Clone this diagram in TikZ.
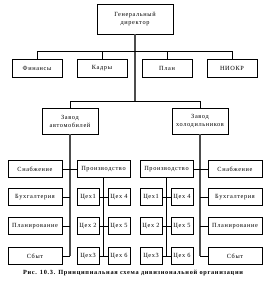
\documentclass[tikz,border=0pt]{standalone}
\usepackage{fontspec}
\setmainfont{Liberation Serif}
\newfontfamily\boxfont[LetterSpace=10]{Liberation Serif}
\newfontfamily\capfont[LetterSpace=11]{Liberation Serif}
\usepackage{tikz}

\begin{document}
\begin{tikzpicture}[x=1pt,y=-1pt,
  unit/.style={draw,line width=0.7pt,inner sep=1pt,align=center,
    font=\boxfont\fontsize{6.3}{8}\selectfont},
  link/.style={line width=0.7pt},
  trunk/.style={line width=1.4pt,black!70}]
\useasboundingbox (0,0) rectangle (265,286);
% top level
\node[unit,minimum width=76,minimum height=30] (gen) at (135,19) {Генеральный\\директор};
\node[unit,minimum width=50,minimum height=18] (fin) at (37,68) {Финансы};
\node[unit,minimum width=50,minimum height=18] (kadry) at (102,68) {Кадры};
\node[unit,minimum width=50,minimum height=18] (plan) at (167,68) {План};
\node[unit,minimum width=50,minimum height=18] (niokr) at (232,68) {НИОКР};
\coordinate (bar) at (0,51);
\coordinate (zavbar) at (0,101);
% plants
\node[unit,minimum width=56,minimum height=26] (zavA) at (70,121) {Завод\\автомобилей};
\node[unit,minimum width=56,minimum height=26] (zavB) at (200,121) {Завод\\холодильников};
% left plant
\node[unit,minimum width=54,minimum height=17] (snA) at (35,169) {Снабжение};
\node[unit,minimum width=54,minimum height=17] (buhA) at (35,197) {Бухгалтерия};
\node[unit,minimum width=54,minimum height=17] (planA) at (35,226) {Планирование};
\node[unit,minimum width=54,minimum height=17] (sbytA) at (35,256) {Сбыт};
\node[unit,minimum width=53,minimum height=17] (prodA) at (103.5,169) {Производство};
\node[unit,minimum width=22,minimum height=17] (c1A) at (88,197) {Цех1};
\node[unit,minimum width=22,minimum height=17] (c2A) at (88,226) {Цех 2};
\node[unit,minimum width=22,minimum height=17] (c3A) at (88,256) {Цех3};
\node[unit,minimum width=22,minimum height=17] (c4A) at (119,197) {Цех 4};
\node[unit,minimum width=22,minimum height=17] (c5A) at (119,226) {Цех 5};
\node[unit,minimum width=22,minimum height=17] (c6A) at (119,256) {Цех 6};
% right plant
\node[unit,minimum width=53,minimum height=17] (prodB) at (166.5,169) {Производство};
\node[unit,minimum width=22,minimum height=17] (c1B) at (151,197) {Цех1};
\node[unit,minimum width=22,minimum height=17] (c2B) at (151,226) {Цех 2};
\node[unit,minimum width=22,minimum height=17] (c3B) at (151,256) {Цех3};
\node[unit,minimum width=22,minimum height=17] (c4B) at (182,197) {Цех 4};
\node[unit,minimum width=22,minimum height=17] (c5B) at (182,226) {Цех 5};
\node[unit,minimum width=22,minimum height=17] (c6B) at (182,256) {Цех 6};
\node[unit,minimum width=54,minimum height=17] (snB) at (235,169) {Снабжение};
\node[unit,minimum width=54,minimum height=17] (buhB) at (235,197) {Бухгалтерия};
\node[unit,minimum width=54,minimum height=17] (planB) at (235,226) {Планирование};
\node[unit,minimum width=54,minimum height=17] (sbytB) at (235,256) {Сбыт};
% connectors
\draw[trunk] (gen.south) -- (gen.south |- zavbar);
\draw[link] (fin.north) -- (fin.north |- bar) -- (niokr.north |- bar) -- (niokr.north);
\draw[link] (kadry.north) -- (kadry.north |- bar);
\draw[link] (plan.north) -- (plan.north |- bar);
\draw[link] (zavA.north) -- (zavA.north |- zavbar) -- (zavB.north |- zavbar) -- (zavB.north);
\draw[trunk] (zavA.south) -- (zavA.south |- sbytA);
\draw[trunk] (zavB.south) -- (zavB.south |- sbytB);
\draw[link] (snA) -- (prodA);
\draw[link] (buhA.east) -- (buhA.east -| zavA);
\draw[link] (planA.east) -- (planA.east -| zavA);
\draw[link] (sbytA.east) -- (sbytA.east -| zavA);
\draw[link] (prodB) -- (snB);
\draw[link] (buhB.west) -- (buhB.west -| zavB);
\draw[link] (planB.west) -- (planB.west -| zavB);
\draw[link] (sbytB.west) -- (sbytB.west -| zavB);
\draw[link] (prodA.south) -- (prodA.south |- c3A);
\draw[link] (c1A) -- (c4A);
\draw[link] (c2A) -- (c5A);
\draw[link] (c3A) -- (c6A);
\draw[link] (prodB.south) -- (prodB.south |- c3B);
\draw[link] (c1B) -- (c4B);
\draw[link] (c2B) -- (c5B);
\draw[link] (c3B) -- (c6B);
% caption
\node[font=\capfont\bfseries\fontsize{6.3}{8}\selectfont] (cap) at (133,273)
  {Рис. 10.3. Принципиальная схема дивизиональной организации};
\end{tikzpicture}
\end{document}
